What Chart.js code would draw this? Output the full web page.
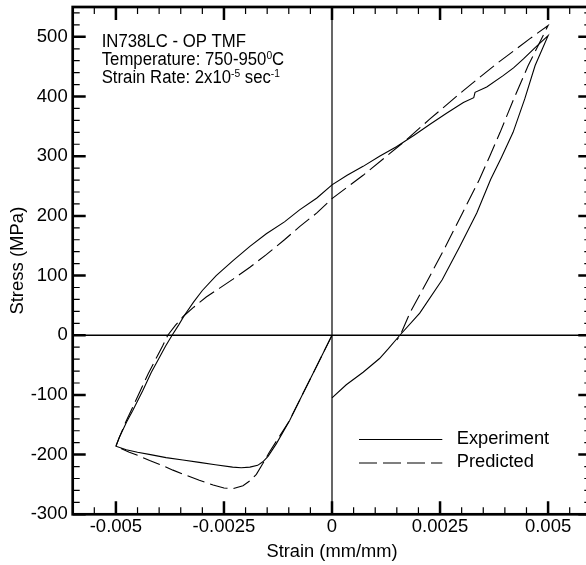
<!DOCTYPE html>
<html>
<head>
<meta charset="utf-8">
<script src="https://cdn.jsdelivr.net/npm/chart.js@4.4.1/dist/chart.umd.min.js"></script>
<style>
  html, body { margin: 0; padding: 0; background: #fff; overflow: hidden; }
  #wrap { width: 600px; height: 565px; }
</style>
</head>
<body>
<div id="wrap"><canvas id="loopChart"></canvas></div>
<script>
const FONT = '"Liberation Sans", Arial, Helvetica, sans-serif';

// axis ticks
const xTicks = [-0.005, -0.0025, 0, 0.0025, 0.005];
const xTickLabels = ['-0.005', '-0.0025', '0', '0.0025', '0.005'];
const yTicks = [-300, -200, -100, 0, 100, 200, 300, 400, 500];

// measured hysteresis loop (strain mm/mm, stress MPa)
const expStrain = [
  0, -0.00033, -0.00066, -0.00098, -0.00129, -0.00148, -0.00160, -0.00172, -0.00190, -0.00210,
  -0.00230, -0.00270, -0.00307, -0.00345, -0.00384, -0.00420, -0.00450, -0.00476, -0.00500,
  -0.00492, -0.00475, -0.00461, -0.00438, -0.00418, -0.00400, -0.00385, -0.00370, -0.00355,
  -0.00341, -0.00320, -0.00300, -0.00268, -0.00229, -0.00190, -0.00152, -0.00110, -0.00075,
  -0.00035, 0, 0.00035, 0.00072, 0.00110, 0.00149, 0.00190, 0.00226, 0.00265, 0.00304,
  0.00328, 0.00331, 0.00358, 0.00396, 0.00420, 0.00443, 0.00470, 0.00500,
  0.00470, 0.00446, 0.00419, 0.00392, 0.00367, 0.00335, 0.00296, 0.00255, 0.00203, 0.00157,
  0.00130, 0.00110, 0.00072, 0.00033, 0
];
const expStress = [
  0, -48, -96, -143, -182, -203, -212, -218, -221, -222,
  -221, -217, -213, -209, -205, -200, -196, -192, -186,
  -171, -145, -126, -93, -62, -38, -18, 0, 17,
  34, 56, 75, 100, 125, 149, 170, 190, 210,
  230, 252, 268, 283, 300, 316, 335, 353, 372, 390,
  398, 407, 416, 435, 448, 463, 482, 502,
  452, 396, 340, 298, 261, 205, 149, 93, 37, 0,
  -23, -39, -62, -83, -105
];

// model prediction
const predStrain = [
  0, -0.00050, -0.00100, -0.00145, -0.00160, -0.00175, -0.00190, -0.00206, -0.00229, -0.00250,
  -0.00275, -0.00307, -0.00340, -0.00368, -0.00400, -0.00422, -0.00450, -0.00469, -0.00500,
  -0.00492, -0.00477, -0.00462, -0.00443, -0.00425, -0.00405, -0.00392, -0.00380, -0.00362,
  -0.00345, -0.00320, -0.00291, -0.00260, -0.00229, -0.00190, -0.00152, -0.00110, -0.00075,
  -0.00035, 0, 0.00072, 0.00165, 0.00226, 0.00304, 0.00381, 0.00458, 0.00500,
  0.00454, 0.00420, 0.00389, 0.00365, 0.00341, 0.00302, 0.00263, 0.00222, 0.00180, 0.00158, 0.00150
];
const predStress = [
  0, -73, -145, -196, -215, -233, -244, -252, -257, -256,
  -251, -243, -234, -226, -216, -210, -201, -196, -186,
  -171, -145, -122, -92, -64, -36, -18, 0, 17,
  31, 47, 64, 79, 94, 114, 135, 160, 182,
  205, 229, 268, 323, 362, 410, 455, 497, 519,
  452, 395, 340, 300, 261, 205, 149, 93, 37, 0, -8
];

function toPoints(xs, ys) {
  return xs.map((x, i) => ({ x: x, y: ys[i] }));
}

// draws text with raised superscript parts, slightly condensed
function drawRuns(ctx, x, y, runs) {
  ctx.save();
  ctx.translate(x, y);
  ctx.scale(0.93, 1);
  let cx = 0;
  runs.forEach(r => {
    ctx.font = (r.sup ? '11px ' : '18px ') + FONT;
    ctx.fillText(r.t, cx, r.sup ? -6 : 0);
    cx += ctx.measureText(r.t).width;
  });
  ctx.restore();
}

const framePlugin = {
  id: 'frame',
  beforeDatasetsDraw(chart) {
    const { ctx, chartArea: a, scales: { x, y } } = chart;
    ctx.save();
    ctx.strokeStyle = '#000';
    ctx.lineWidth = 1.5;
    const y0 = y.getPixelForValue(0);
    ctx.beginPath(); ctx.moveTo(a.left, y0); ctx.lineTo(a.right, y0); ctx.stroke();
    ctx.lineWidth = 1.2;
    const x0 = x.getPixelForValue(0);
    ctx.beginPath(); ctx.moveTo(x0, a.top); ctx.lineTo(x0, a.bottom); ctx.stroke();
    ctx.restore();
  },
  afterDraw(chart) {
    const { ctx, chartArea: a, scales: { x, y } } = chart;
    ctx.save();
    ctx.strokeStyle = '#000';
    ctx.fillStyle = '#000';

    // ticks pointing into the plot on all four sides
    for (let k = -12; k <= 12; k++) {
      const px = x.getPixelForValue(k * 0.0005);
      const major = k % 5 === 0;
      const len = major ? 13 : 7;
      ctx.lineWidth = major ? 2.5 : 1.2;
      ctx.beginPath();
      ctx.moveTo(px, a.bottom); ctx.lineTo(px, a.bottom - len);
      ctx.moveTo(px, a.top); ctx.lineTo(px, a.top + len);
      ctx.stroke();
    }
    for (let v = -300; v <= 540; v += 20) {
      const py = y.getPixelForValue(v);
      const major = v % 100 === 0;
      const len = major ? 13 : 7;
      ctx.lineWidth = major ? 2.5 : 1.2;
      ctx.beginPath();
      ctx.moveTo(a.left, py); ctx.lineTo(a.left + len, py);
      ctx.moveTo(a.right, py); ctx.lineTo(a.right - len, py);
      ctx.stroke();
    }

    ctx.lineWidth = 2.7;
    ctx.strokeRect(a.left, a.top, a.right - a.left, a.bottom - a.top);

    // test conditions
    ctx.textBaseline = 'alphabetic';
    ctx.textAlign = 'left';
    const nx = a.left + 29;
    drawRuns(ctx, nx, a.top + 39.5, [{ t: 'IN738LC - OP TMF' }]);
    drawRuns(ctx, nx, a.top + 58, [{ t: 'Temperature: 750-950' }, { t: '0', sup: true }, { t: 'C' }]);
    drawRuns(ctx, nx, a.top + 76, [{ t: 'Strain Rate: 2x10' }, { t: '-5', sup: true }, { t: ' sec' }, { t: '-1', sup: true }]);

    // legend
    const lx0 = a.left + 286.3, lx1 = a.left + 369.6, tx = a.left + 384;
    const rows = [a.top + 431.5, a.top + 455];
    chart.data.datasets.forEach((ds, i) => {
      ctx.lineWidth = 1.1;
      ctx.setLineDash(ds.borderDash || []);
      ctx.beginPath();
      ctx.moveTo(lx0, rows[i] + 1); ctx.lineTo(lx1, rows[i] + 1);
      ctx.stroke();
      ctx.setLineDash([]);
      ctx.font = '18.3px ' + FONT;
      ctx.textBaseline = 'middle';
      ctx.fillText(ds.label, tx, rows[i]);
    });
    ctx.restore();
  }
};

const config = {
  type: 'scatter',
  data: {
    datasets: [{
      label: 'Experiment',
      data: toPoints(expStrain, expStress),
      showLine: true,
      borderColor: '#000',
      borderWidth: 1.1,
      borderDash: [],
      pointRadius: 0,
      fill: false,
      tension: 0
    }, {
      label: 'Predicted',
      data: toPoints(predStrain, predStress),
      showLine: true,
      borderColor: '#000',
      borderWidth: 1.1,
      borderDash: [18, 6],
      pointRadius: 0,
      fill: false,
      tension: 0
    }]
  },
  options: {
    responsive: true,
    maintainAspectRatio: false,
    animation: false,
    layout: { padding: { top: 7, right: 8.7, left: 0, bottom: 0 } },
    plugins: {
      legend: { display: false },
      tooltip: { enabled: false }
    },
    scales: {
      x: {
        type: 'linear',
        position: 'bottom',
        min: -0.006,
        max: 0.006,
        afterBuildTicks: s => { s.ticks = xTicks.map(v => ({ value: v })); },
        afterFit: s => { s.height = 50.7; s.paddingLeft = 0; s.paddingRight = 0; },
        ticks: {
          callback: v => xTickLabels[xTicks.indexOf(v)],
          font: { family: FONT, size: 18.5 },
          color: '#000',
          padding: 2,
          maxRotation: 0,
          autoSkip: false
        },
        grid: { display: false, drawTicks: false },
        border: { display: false },
        title: {
          display: true,
          text: 'Strain (mm/mm)',
          font: { family: FONT, size: 18.3 },
          color: '#000',
          padding: { top: 0, bottom: 2 }
        }
      },
      y: {
        type: 'linear',
        min: -300,
        max: 550,
        afterBuildTicks: s => { s.ticks = yTicks.map(v => ({ value: v })); },
        afterFit: s => { s.width = 72.7; s.paddingTop = 0; s.paddingBottom = 0; },
        ticks: {
          callback: v => String(v),
          font: { family: FONT, size: 18.5 },
          color: '#000',
          padding: 5,
          autoSkip: false
        },
        grid: { display: false, drawTicks: false },
        border: { display: false },
        title: {
          display: true,
          text: 'Stress (MPa)',
          font: { family: FONT, size: 18.5 },
          color: '#000',
          padding: { top: 7, bottom: 0 }
        }
      }
    }
  },
  plugins: [framePlugin]
};

const loopChart = new Chart(document.getElementById('loopChart').getContext('2d'), config);
</script>
</body>
</html>
